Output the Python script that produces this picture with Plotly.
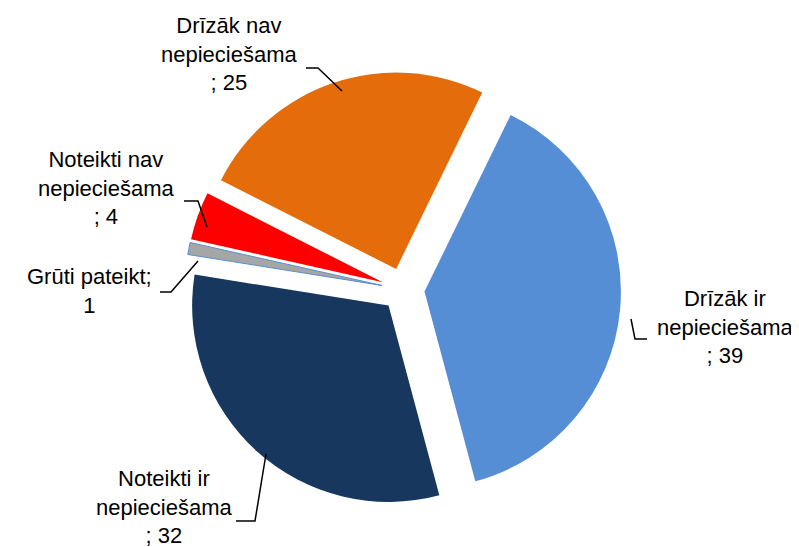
import plotly.graph_objects as go

W, H = 799, 547

labels = ["Drīzāk ir nepieciešama", "Noteikti ir nepieciešama", "Grūti pateikt",
          "Noteikti nav nepieciešama", "Drīzāk nav nepieciešama"]
values = [39, 32, 1, 4, 25]
colors = ["#558ED5", "#17375E", "#A6A6A6", "#FF0000", "#E46C0A"]

label_texts = ["Drīzāk ir<br>nepieciešama<br>; 39",
               "Noteikti ir<br>nepieciešama<br>; 32",
               "Grūti pateikt;<br>1",
               "Noteikti nav<br>nepieciešama<br>; 4",
               "Drīzāk nav<br>nepieciešama<br>; 25"]
# label centres and leader lines, in pixels
label_pos = [(717, 319), (156, 499), (81, 283), (98, 180), (221, 46)]
leaders = [
    [(623, 311), (627, 331), (639, 331)],
    [(228, 513), (247, 513), (258, 446)],
    [(152, 284), (163, 284), (190, 253)],
    [(176, 193), (190, 193), (199, 219)],
    [(298, 60), (310, 60), (334, 83)],
]

# pie centre and box size, in pixels
cx, cy, box = 395, 281.5, 436


def px(x):
    return x / W


def py(y):
    return 1 - y / H


fig = go.Figure()

fig.add_trace(
    go.Pie(
        labels=labels,
        values=values,
        sort=False,
        direction="clockwise",
        rotation=26,
        pull=[0.11] * 5,
        marker=dict(
            colors=colors,
            line=dict(color=["#FFFFFF", "#FFFFFF", "#558ED5", "#FFFFFF", "#FFFFFF"],
                      width=[0, 0, 1, 0, 0])
        ),
        textinfo="none",
        showlegend=False,
        domain=dict(x=[px(cx - box / 2), px(cx + box / 2)],
                    y=[py(cy + box / 2), py(cy - box / 2)])
    )
)

for text, (x, y) in zip(label_texts, label_pos):
    fig.add_annotation(
        x=px(x), y=py(y), xref="paper", yref="paper",
        text=text, showarrow=False, borderpad=0,
        xanchor="center", yanchor="middle", align="center",
        font=dict(size=22, color="#000000")
    )

for pts in leaders:
    path = "M " + " L ".join(f"{px(x)},{py(y)}" for x, y in pts)
    fig.add_shape(
        type="path", path=path, xref="paper", yref="paper",
        line=dict(color="#000000", width=1.5)
    )

fig.update_layout(
    width=W,
    height=H,
    margin=dict(l=0, r=0, t=0, b=0),
    paper_bgcolor="#FFFFFF",
    plot_bgcolor="#FFFFFF",
    font=dict(family="Liberation Sans, Arial, sans-serif", color="#000000")
)

fig.write_html("out.html")
